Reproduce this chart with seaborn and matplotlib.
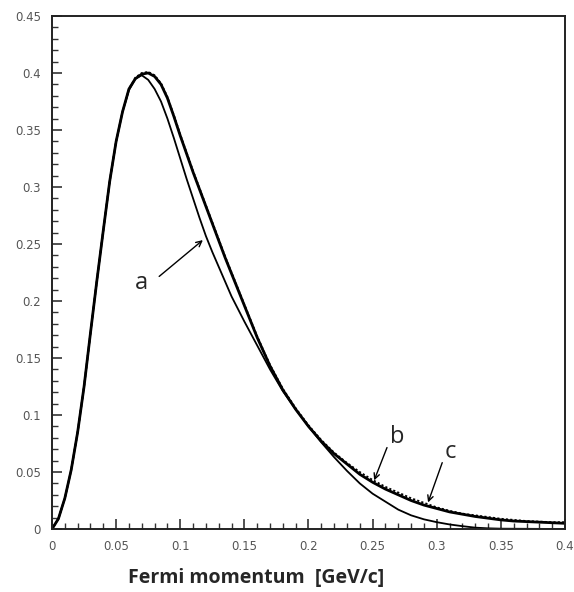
import numpy as np
import pandas as pd
import matplotlib
matplotlib.use("Agg")
import matplotlib.pyplot as plt
from matplotlib.ticker import MultipleLocator
import seaborn as sns

# Fermi momentum grid (GeV/c) and the three distributions
p_a = [0.000, 0.005, 0.010, 0.015, 0.020, 0.025, 0.030, 0.035, 0.040, 0.045,
       0.050, 0.055, 0.060, 0.065, 0.070, 0.075, 0.080, 0.085, 0.090, 0.095,
       0.100, 0.105, 0.110, 0.115, 0.120, 0.125, 0.130, 0.135, 0.140, 0.150,
       0.160, 0.170, 0.180, 0.190, 0.200, 0.210, 0.220, 0.230, 0.240, 0.250,
       0.260, 0.270, 0.280, 0.290, 0.300, 0.310, 0.320, 0.330, 0.340, 0.350,
       0.400]
dist_a = [0.000, 0.009, 0.027, 0.052, 0.085, 0.125, 0.172, 0.218, 0.262, 0.305,
          0.340, 0.366, 0.385, 0.395, 0.398, 0.394, 0.386, 0.375, 0.360, 0.343,
          0.325, 0.307, 0.290, 0.273, 0.257, 0.243, 0.230, 0.217, 0.204, 0.182,
          0.161, 0.140, 0.121, 0.105, 0.090, 0.076, 0.063, 0.051, 0.040, 0.031,
          0.024, 0.017, 0.012, 0.0085, 0.006, 0.004, 0.0025, 0.0012, 0.0006, 0.0003,
          0.000]

p_b = [0.000, 0.005, 0.010, 0.015, 0.020, 0.025, 0.030, 0.035, 0.040, 0.045,
       0.050, 0.055, 0.060, 0.065, 0.070, 0.075, 0.080, 0.085, 0.090, 0.095,
       0.100, 0.105, 0.110, 0.115, 0.120, 0.125, 0.130, 0.135, 0.140, 0.145,
       0.150, 0.155, 0.160, 0.170, 0.180, 0.190, 0.200, 0.210, 0.220, 0.230,
       0.240, 0.250, 0.260, 0.270, 0.280, 0.290, 0.300, 0.310, 0.320, 0.330,
       0.340, 0.350, 0.360, 0.370, 0.380, 0.390, 0.400]
dist_b = [0.000, 0.009, 0.027, 0.052, 0.085, 0.125, 0.172, 0.218, 0.262, 0.305,
          0.340, 0.366, 0.386, 0.395, 0.399, 0.400, 0.397, 0.390, 0.378, 0.362,
          0.345, 0.329, 0.313, 0.298, 0.283, 0.268, 0.253, 0.238, 0.224, 0.210,
          0.196, 0.182, 0.168, 0.143, 0.122, 0.105, 0.090, 0.077, 0.066, 0.057,
          0.048, 0.041, 0.035, 0.030, 0.025, 0.021, 0.018, 0.015, 0.013, 0.011,
          0.0095, 0.008, 0.007, 0.0065, 0.006, 0.0055, 0.005]
dist_c = [0.000, 0.009, 0.027, 0.052, 0.085, 0.125, 0.172, 0.218, 0.262, 0.305,
          0.340, 0.366, 0.386, 0.396, 0.400, 0.401, 0.398, 0.391, 0.379, 0.363,
          0.346, 0.330, 0.314, 0.299, 0.284, 0.269, 0.254, 0.239, 0.225, 0.211,
          0.197, 0.183, 0.169, 0.144, 0.123, 0.106, 0.091, 0.078, 0.067, 0.058,
          0.050, 0.043, 0.037, 0.032, 0.027, 0.023, 0.019, 0.016, 0.0135, 0.012,
          0.0105, 0.009, 0.008, 0.007, 0.0065, 0.006, 0.006]

df_a = pd.DataFrame({"p": p_a, "f": dist_a})
df_b = pd.DataFrame({"p": p_b, "f": dist_b})
df_c = pd.DataFrame({"p": p_b, "f": dist_c})

sns.set_style("ticks")
plt.rcParams["font.family"] = ["DejaVu Sans"]

fig = plt.figure(figsize=(5.74, 5.92), dpi=100)
ax = fig.add_axes([0.0906, 0.1064, 0.8937, 0.8666])

sns.lineplot(data=df_b, x="p", y="f", ax=ax, color="black", linewidth=2.0)
sns.lineplot(data=df_c, x="p", y="f", ax=ax, color="black", linewidth=1.3,
             linestyle=(0, (1.2, 1.2)))
sns.lineplot(data=df_a, x="p", y="f", ax=ax, color="black", linewidth=1.3)

ax.set_xlim(0, 0.4)
ax.set_ylim(0, 0.45)
ax.xaxis.set_major_locator(MultipleLocator(0.05))
ax.xaxis.set_minor_locator(MultipleLocator(0.01))
ax.yaxis.set_major_locator(MultipleLocator(0.05))
ax.yaxis.set_minor_locator(MultipleLocator(0.01))
ax.set_xticklabels([f"{v:g}" for v in ax.get_xticks()])
ax.set_yticklabels([f"{v:g}" for v in ax.get_yticks()])
ax.tick_params(which="both", direction="in", top=False, right=False,
               colors="#333333", labelcolor="#555555", labelsize=8.5)
ax.tick_params(which="major", length=7, width=1.2, pad=8)
ax.tick_params(which="minor", length=4, width=1.0)
for s in ax.spines.values():
    s.set_visible(True)
    s.set_linewidth(1.4)
    s.set_color("#222222")
ax.set_xlabel("")
ax.set_ylabel("")

# curve labels with arrows
arrow = dict(arrowstyle="->", color="black", lw=1.0)
ax.annotate("", xy=(0.1193, 0.255), xytext=(0.0819, 0.220), arrowprops=arrow)
ax.text(0.070, 0.216, "a", fontsize=17, ha="center", va="center", family="Open Sans")
ax.annotate("", xy=(0.2504, 0.0404), xytext=(0.262, 0.0737), arrowprops=arrow)
ax.text(0.269, 0.0807, "b", fontsize=17, ha="center", va="center", family="Open Sans")
ax.annotate("", xy=(0.2925, 0.021), xytext=(0.305, 0.0605), arrowprops=arrow)
ax.text(0.3105, 0.0675, "c", fontsize=17, ha="center", va="center", family="Open Sans")

fig.text(0.446, 0.024, "Fermi momentum  [GeV/c]", fontsize=14, fontweight="bold",
         family="Open Sans", ha="center", va="center")

fig.savefig("out.png", dpi=100)
